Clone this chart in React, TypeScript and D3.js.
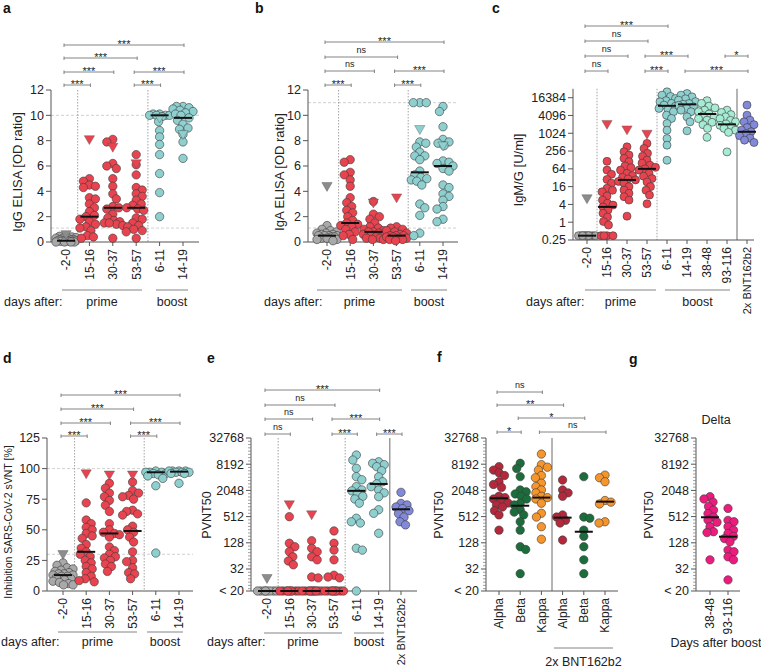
import React from "react";
import * as d3 from "d3";

const FONT = "'Liberation Sans', Arial, Helvetica, sans-serif";

const GRAY = "#a9a9a9";
const RED = "#e8434f";
const TEAL = "#8dd0cf";
const MINT = "#a6ebd4";
const BLUE = "#8289d9";
const ALPHA = "#b3283b";
const BETA = "#1c6d3c";
const KAPPA = "#f5952c";
const MAGENTA = "#ee1b7f";

// ---------- Panel a: IgG ELISA ----------
const aCats = ["-2-0", "15-16", "30-37", "53-57", "6-11", "14-19"];
const aColors = [GRAY, RED, RED, RED, TEAL, TEAL];
const aValues = [
  [0.5, 0.45, 0.4, 0.35, 0.3, 0.3, 0.25, 0.2, 0.2, 0.15, 0.15, 0.1, 0.1, 0.1, 0.1, 0.05, 0.05, 0.05, 0, 0, 0, 0],
  [5.0, 4.8, 4.5, 4.4, 4.3, 3.5, 3.4, 3.0, 2.7, 2.4, 2.1, 2.0, 1.8, 1.6, 1.4, 1.2, 1.1, 0.9, 0.5, 0.4, 0.3],
  [8.1, 7.9, 6.2, 6.0, 5.8, 5.0, 4.4, 3.8, 3.4, 2.8, 2.7, 2.6, 2.2, 1.9, 1.7, 1.6, 1.5, 1.4, 1.3, 1.5, 0.3],
  [6.9, 6.1, 5.3, 4.3, 4.1, 3.8, 3.6, 3.3, 3.0, 2.9, 2.7, 2.6, 2.5, 1.9, 1.8, 1.5, 1.3, 1.2, 1.0, 0.9, 0.8, 0.3],
  [10.1, 10.1, 10.0, 10.0, 10.0, 10.0, 9.9, 9.5, 8.8, 8.3, 7.7, 6.9, 5.4, 3.9, 2.0],
  [10.7, 10.7, 10.6, 10.5, 10.4, 10.3, 10.2, 10.1, 10.0, 9.8, 9.6, 9.3, 9.0, 8.9, 8.5, 7.9, 6.6],
];
const aTriangles = [[0.7], [8.2], [7.6], [6.3], [9.9], [8.6]];
const aMedians = [0.1, 2.0, 2.7, 2.7, 10.0, 9.8];
const aTicks = [0, 2, 4, 6, 8, 10, 12];
const aRefLines = [10, 1.1];
const aBrackets: [number, number, number, string][] = [
  [0, 1, 1, "***"], [3, 4, 1, "***"], [0, 2, 2, "***"], [3, 5, 2, "***"], [0, 3, 3, "***"], [0, 5, 4, "***"],
];

// ---------- Panel b: IgA ELISA ----------
const bCats = ["-2-0", "15-16", "30-37", "53-57", "6-11", "14-19"];
const bColors = [GRAY, RED, RED, RED, TEAL, TEAL];
const bValues = [
  [1.3, 1.0, 0.9, 0.8, 0.7, 0.7, 0.6, 0.6, 0.5, 0.5, 0.5, 0.5, 0.4, 0.4, 0.3, 0.3, 0.2, 0.2, 0.1],
  [6.5, 6.3, 5.5, 5.3, 4.9, 4.4, 3.5, 3.1, 2.8, 2.5, 2.3, 2.0, 1.7, 1.5, 1.4, 1.3, 1.2, 1.0, 0.8, 0.6, 0.5, 0.2],
  [3.2, 2.2, 2.0, 1.8, 1.5, 1.2, 1.1, 1.0, 0.9, 0.8, 0.8, 0.7, 0.6, 0.5, 0.5, 0.4, 0.3, 0.3, 0.2, 0.2],
  [1.2, 1.1, 1.0, 0.9, 0.8, 0.7, 0.6, 0.5, 0.5, 0.5, 0.4, 0.4, 0.3, 0.3, 0.2, 0.2, 0.1],
  [11, 11, 11, 7.9, 7.8, 7.5, 7.1, 6.8, 6.8, 6.5, 5.6, 5.3, 5.1, 5.0, 4.9, 4.8, 4.5, 3.0, 2.7, 2.1, 0.7, 0.5],
  [10.7, 10.3, 9.1, 8.1, 7.9, 7.8, 7.6, 6.4, 6.3, 6.2, 6.0, 5.8, 5.6, 4.5, 4.3, 3.8, 3.6, 3.3, 2.8, 2.6, 1.8, 1.6],
];
const bTriangles = [[4.5], [], [3.2], [3.6], [9.0], [7.7]];
const bMedians = [0.5, 1.5, 0.8, 0.5, 5.5, 6.0];
const bTicks = [0, 2, 4, 6, 8, 10, 12];
const bRefLines = [11, 1.1];
const bBrackets: [number, number, number, string][] = [
  [0, 1, 1, "***"], [3, 4, 1, "***"], [0, 2, 2, "ns"], [3, 5, 2, "***"], [0, 3, 3, "ns"], [0, 5, 4, "***"],
];

// ---------- Panel c: IgM/G ----------
const cCats = ["-2-0", "15-16", "30-37", "53-57", "6-11", "14-19", "38-48", "93-116", "2x BNT162b2"];
const cColors = [GRAY, RED, RED, RED, TEAL, TEAL, MINT, MINT, BLUE];
const cValues = [
  [0.35, 0.35, 0.35, 0.35, 0.35, 0.35, 0.35, 0.35, 0.35, 0.35],
  [115, 58, 42, 28, 21, 14, 12, 10.7, 7.7, 5.6, 4.4, 3.8, 3.3, 2.6, 2.0, 1.5, 1.05, 0.8, 0.35, 0.35, 0.35, 0.35],
  [357, 242, 187, 145, 112, 80, 70, 58, 45, 38, 33, 29, 27, 24, 21, 16, 12.3, 9.5, 7.3, 5.6, 1.6],
  [465, 315, 214, 170, 127, 100, 85, 72, 64, 58, 45, 36, 30, 23, 16, 12, 8.3, 4.2],
  [25900, 20000, 18000, 15400, 13000, 11900, 10500, 9200, 8500, 7100, 6500, 5500, 4200, 3250, 2200, 1300, 680, 405, 125],
  [22700, 20000, 17500, 15000, 13500, 12000, 10400, 9800, 9000, 8000, 7100, 6200, 5500, 3700, 2500, 1240],
  [13000, 10500, 8500, 7400, 6200, 5500, 4600, 4000, 3600, 3200, 2840, 2400, 2000, 1500, 745],
  [6200, 5200, 4400, 3700, 3200, 2800, 2500, 2100, 1900, 1700, 1500, 1300, 1100, 240],
  [9200, 4200, 2840, 2500, 2000, 1600, 1300, 1150, 1000, 850, 700, 600, 500],
];
const cTriangles = [[7], [2300], [1500], [1070], [], [], [], [], []];
const cMedians = [0.35, 3.3, 27, 64, 8700, 9750, 4600, 2050, 1150];
const cTicks = [0.25, 1, 4, 16, 64, 256, 1024, 4096, 16384];
const cBrackets: [number, number, number, string][] = [
  [0, 1, 1, "ns"], [3, 4, 1, "***"], [5, 8, 1, "***"], [0, 2, 2, "ns"], [3, 5, 2, "***"], [7, 8, 2, "*"],
  [0, 3, 3, "ns"], [0, 4, 4, "***"],
];

// ---------- Panel d: sVNT ----------
const dCats = ["-2-0", "15-16", "30-37", "53-57", "6-11", "14-19"];
const dColors = [GRAY, RED, RED, RED, TEAL, TEAL];
const dValues = [
  [23, 21, 19, 18, 17, 16, 15, 14, 14, 13, 13, 12, 12, 11, 10, 9, 8, 7, 6, 5, 5],
  [72, 58, 55, 52, 50, 47, 45, 43, 38, 35, 32, 30, 28, 25, 23, 20, 18, 15, 12, 10, 8.5, 7.5],
  [88, 84, 80, 77, 74, 70, 65, 55, 50, 48, 47, 46, 44, 36, 33, 30, 28, 27, 25, 22, 20, 16],
  [89, 82, 80, 78, 77, 75, 66, 65, 63, 62, 53, 50, 48, 44, 40, 32, 25, 24, 19, 15, 14, 10],
  [98, 97, 97, 97, 96, 96, 95, 94, 92, 86, 31],
  [98, 98, 98, 98, 97, 97, 97, 96, 96, 88],
];
const dTriangles = [[31], [97], [96], [96], [], []];
const dMedians = [13, 32, 47, 49, 97, 97.5];
const dTicks = [0, 25, 50, 75, 100, 125];
const dRefLines = [100, 30];
const dBrackets: [number, number, number, string][] = [
  [0, 1, 1, "***"], [3, 4, 1, "***"], [0, 2, 2, "***"], [3, 5, 2, "***"], [0, 3, 3, "***"], [0, 5, 4, "***"],
];

// ---------- Panel e: PVNT50 ----------
const eCats = ["-2-0", "15-16", "30-37", "53-57", "6-11", "14-19", "2x BNT162b2"];
const eColors = [GRAY, RED, RED, RED, TEAL, TEAL, BLUE];
const eValues = [
  [10, 10, 10, 10, 10, 10, 10, 10],
  [510, 125, 104, 80, 61, 49, 40, 10, 10, 10, 10, 10, 10, 10, 10, 10],
  [143, 96, 80, 61, 52, 21, 20, 10, 10, 10, 10, 10, 10, 10, 10, 10, 10],
  [240, 125, 87, 52, 23, 21, 20, 10, 10, 10, 10, 10, 10, 10, 10, 10],
  [13300, 10200, 6600, 4240, 3600, 2500, 2100, 2000, 1760, 1500, 1300, 1040, 470, 390, 365, 96, 87, 10],
  [9300, 8600, 8000, 7200, 5800, 4200, 3240, 2900, 2500, 2100, 1800, 1470, 735, 610, 212],
  [1850, 1030, 950, 850, 780, 700, 600, 500, 390, 330],
];
const eTriangles = [[21], [1040], [610], [], [], [], []];
const eMedians = [10, 10, 10, 10, 2000, 2880, 755];
const eBrackets: [number, number, number, string][] = [
  [0, 1, 1, "ns"], [3, 4, 1, "***"], [5, 6, 1, "***"], [0, 2, 2, "ns"], [3, 5, 2, "***"], [0, 3, 3, "ns"], [0, 5, 4, "***"],
];

// ---------- Panel f: variants ----------
const fCats = ["Alpha", "Beta", "Kappa", "Alpha", "Beta", "Kappa"];
const fColors = [ALPHA, BETA, KAPPA, ALPHA, BETA, KAPPA];
const fValues = [
  [7200, 6000, 5200, 4500, 3240, 2800, 2400, 1500, 1400, 1300, 1200, 1050, 950, 850, 700, 560, 250],
  [8600, 6500, 4240, 2100, 1900, 1700, 1500, 1300, 1040, 950, 735, 650, 560, 390, 250, 104, 90, 25],
  [14000, 8000, 7000, 6000, 4500, 4000, 3000, 2500, 2100, 1800, 1500, 1400, 1300, 1040, 610, 500, 300, 155],
  [3550, 2100, 1800, 1500, 560, 500, 420, 365, 148],
  [4240, 500, 470, 250, 180, 104, 52, 25],
  [4600, 4000, 3240, 1200, 1100, 1000, 390, 365],
];
const fTriangles = [[], [], [], [], [], []];
const fMedians = [1350, 910, 1400, 485, 230, 1130];
const fBrackets: [number, number, number, string][] = [
  [0, 1, 1, "*"], [2, 5, 1, "ns"], [1, 4, 2, "*"], [0, 3, 3, "**"], [0, 2, 4, "ns"],
];

// ---------- Panel g: Delta ----------
const gCats = ["38-48", "93-116"];
const gColors = [MAGENTA, MAGENTA];
const gValues = [
  [1470, 1300, 1100, 870, 720, 600, 500, 430, 380, 300, 230, 220, 52],
  [790, 420, 390, 300, 250, 210, 180, 160, 135, 87, 80, 61, 52, 18],
];
const gTriangles = [[], []];
const gMedians = [495, 177];

const pvTicks = [10, 32, 128, 512, 2048, 8192, 32768];

type Bracket = [number, number, number, string];

interface PanelSpec {
  cats: string[];
  colors: string[];
  values: number[][];
  triangles: number[][];
  medians: number[];
  y: any;
  ticks: number[];
  tickLabel: (v: number) => string;
  minor?: number[];
  xRange: [number, number];
  axisX: number;
  axisEnd: number;
  refLines?: number[];
  seps: { after: number; solid: boolean }[];
  brackets: Bracket[];
  levels: number[];
  yLabel: string;
  yLabelX: number;
  yLabelY: number;
  yLabelSize: number;
  r: number;
  maxW: number;
}

function swarmOffsets(ys: number[], r: number, maxW: number): number[] {
  const n = ys.length;
  const order = d3.range(n).sort((a, b) => ys[a] - ys[b] || a - b);
  const placed: [number, number][] = [];
  const out = new Array(n).fill(0);
  const minD = r * 1.45;
  const cands: number[] = [0];
  for (let k = 0.5; k <= maxW; k += 0.5) cands.push(k, -k);
  let flip = 1;
  for (const i of order) {
    const yy = ys[i];
    let chosen: number | null = null;
    let bestX = 0;
    let bestD = -1;
    for (const c0 of cands) {
      const c = c0 * flip;
      let md = Infinity;
      for (const [px, py] of placed) {
        const dd = Math.hypot(px - c, py - yy);
        if (dd < md) md = dd;
      }
      if (md >= minD) {
        chosen = c;
        break;
      }
      if (md > bestD + 0.01) {
        bestD = md;
        bestX = c;
      }
    }
    const xx = chosen === null ? bestX : chosen;
    out[i] = xx;
    placed.push([xx, yy]);
    flip = -flip;
  }
  return out;
}

const triPath = d3.symbol().type(d3.symbolTriangle).size(46)() as string;

function Panel({ p }: { p: PanelSpec }) {
  const n = p.cats.length;
  const x = d3.scalePoint<number>().domain(d3.range(n)).range(p.xRange);
  const y = p.y;
  const dom = y.domain();
  const yBottom = y(dom[0]);
  const yTop = y(dom[dom.length - 1]);
  const xc = (i: number) => x(i) as number;
  return (
    <g fontFamily={FONT}>
      {(p.refLines || []).map((v, i) => (
        <line key={"rl" + i} x1={p.axisX} x2={p.axisEnd} y1={y(v)} y2={y(v)} stroke="#c4c4c4" strokeWidth={0.8} strokeDasharray="3,2" />
      ))}
      {p.seps.map((s, i) => {
        const sx = (xc(s.after) + xc(s.after + 1)) / 2;
        return (
          <line key={"sp" + i} x1={sx} x2={sx} y1={yTop} y2={yBottom}
            stroke={s.solid ? "#6a6a6a" : "#8a8a8a"} strokeWidth={s.solid ? 1 : 0.8}
            strokeDasharray={s.solid ? undefined : "1.5,1.5"} />
        );
      })}
      <line x1={p.axisX} x2={p.axisX} y1={yTop} y2={yBottom} stroke="#555" strokeWidth={1} />
      {(p.minor || []).map((v, i) => (
        <line key={"mn" + i} x1={p.axisX - 3} x2={p.axisX} y1={y(v)} y2={y(v)} stroke="#777" strokeWidth={0.7} />
      ))}
      {p.ticks.map((v, i) => (
        <g key={"tk" + i}>
          <line x1={p.axisX - 5} x2={p.axisX} y1={y(v)} y2={y(v)} stroke="#555" strokeWidth={1} />
          <text x={p.axisX - 7} y={y(v)} dy="0.35em" textAnchor="end" fontSize={12.5} fill="#222">{p.tickLabel(v)}</text>
        </g>
      ))}
      <text transform={`translate(${p.yLabelX},${p.yLabelY}) rotate(-90)`} textAnchor="middle" dy="0.35em" fontSize={p.yLabelSize} fill="#222">{p.yLabel}</text>
      <line x1={p.axisX} x2={p.axisEnd} y1={yBottom} y2={yBottom} stroke="#555" strokeWidth={1} />
      {p.cats.map((c, i) => (
        <g key={"xc" + i}>
          <line x1={xc(i)} x2={xc(i)} y1={yBottom} y2={yBottom + 4} stroke="#555" strokeWidth={1} />
          <text transform={`translate(${xc(i) + 4.3},${yBottom + 7}) rotate(-90)`} textAnchor="end" fontSize={c.length > 8 ? 11 : 12} fill="#222">{c}</text>
        </g>
      ))}
      {p.values.map((vals, gi) => {
        const ys = vals.map((v) => y(v));
        const offs = swarmOffsets(ys, p.r, p.maxW);
        return (
          <g key={"pts" + gi}>
            {vals.map((v, j) => (
              <circle key={j} cx={xc(gi) + offs[j]} cy={ys[j]} r={p.r} fill={p.colors[gi]} stroke="#3a3a3a" strokeWidth={0.6} />
            ))}
            {p.triangles[gi].map((v, j) => (
              <path key={"t" + j} d={triPath} transform={`translate(${xc(gi)},${y(v) + 0.5}) rotate(180)`} fill={p.colors[gi] === GRAY ? "#8c8c8c" : p.colors[gi]} stroke="#555" strokeWidth={0.4} />
            ))}
          </g>
        );
      })}
      {p.medians.map((m, gi) => (
        <line key={"md" + gi} x1={xc(gi) - 9} x2={xc(gi) + 9} y1={y(m)} y2={y(m)} stroke="#111" strokeWidth={2} />
      ))}
      {p.brackets.map(([a, b, lv, lab], i) => {
        const by = p.levels[lv - 1];
        const x1 = xc(a) - 2;
        const x2 = xc(b) + 1;
        const star = lab !== "ns";
        return (
          <g key={"br" + i}>
            <line x1={x1} x2={x2} y1={by} y2={by} stroke="#777" strokeWidth={0.9} />
            <line x1={x1} x2={x1} y1={by - 1.5} y2={by + 2} stroke="#777" strokeWidth={0.9} />
            <line x1={x2} x2={x2} y1={by - 1.5} y2={by + 2} stroke="#777" strokeWidth={0.9} />
            <text x={(x1 + x2) / 2} y={star ? by + 3 : by - 4} textAnchor="middle" fontSize={star ? 11 : 9} fill="#222">{lab}</text>
          </g>
        );
      })}
    </g>
  );
}

function logMinor(lo: number, hi: number, step: number, majors: number[]): number[] {
  const out: number[] = [];
  const l0 = Math.log2(lo);
  const l1 = Math.log2(hi);
  for (let k = Math.ceil(l0 / step) * step; k <= l1 + 1e-9; k += step) {
    const v = Math.pow(2, k);
    if (!majors.some((m) => Math.abs(Math.log2(m) - k) < 1e-6)) out.push(v);
  }
  return out;
}

function GroupLabel({ x1, x2, lineY, textY, text }: { x1: number; x2: number; lineY: number; textY: number; text: string }) {
  return (
    <g fontFamily={FONT}>
      <line x1={x1} x2={x2} y1={lineY} y2={lineY} stroke="#777" strokeWidth={0.9} />
      <text x={(x1 + x2) / 2} y={textY} textAnchor="middle" fontSize={12.5} fill="#222">{text}</text>
    </g>
  );
}

const linLabel = (v: number) => String(v);
const pvLabel = (v: number) => (v === 10 ? "< 20" : String(v));

export default function App() {
  const yA = d3.scaleLinear().domain([0, 12]).range([242, 90]);
  const yD = d3.scaleLinear().domain([0, 125]).range([591, 438]);
  const yC = d3.scaleLog().base(2).domain([0.25, 32768]).range([240, 88.8]);
  const yP = d3.scaleLog().base(2).domain([10, 32768]).range([591, 438]);
  const pvMinor = logMinor(10, 32768, 0.25, [32, 128, 512, 2048, 8192, 32768]);

  const pa: PanelSpec = {
    cats: aCats, colors: aColors, values: aValues, triangles: aTriangles, medians: aMedians,
    y: yA, ticks: aTicks, tickLabel: linLabel, xRange: [66, 183], axisX: 51, axisEnd: 199,
    refLines: aRefLines, seps: [{ after: 0, solid: false }, { after: 3, solid: false }],
    brackets: aBrackets, levels: [85, 72, 58, 45],
    yLabel: "IgG ELISA [OD ratio]", yLabelX: 17, yLabelY: 172, yLabelSize: 13, r: 4.2, maxW: 10,
  };
  const pb: PanelSpec = {
    cats: bCats, colors: bColors, values: bValues, triangles: bTriangles, medians: bMedians,
    y: yA, ticks: bTicks, tickLabel: linLabel, xRange: [327, 443], axisX: 308, axisEnd: 458,
    refLines: bRefLines, seps: [{ after: 0, solid: false }, { after: 3, solid: false }],
    brackets: bBrackets, levels: [85, 71, 57, 42],
    yLabel: "IgA ELISA [OD ratio]", yLabelX: 279, yLabelY: 172, yLabelSize: 13, r: 4.2, maxW: 10,
  };
  const pc: PanelSpec = {
    cats: cCats, colors: cColors, values: cValues, triangles: cTriangles, medians: cMedians,
    y: yC, ticks: cTicks, tickLabel: linLabel, xRange: [587, 747], axisX: 573, axisEnd: 754,
    seps: [{ after: 0, solid: false }, { after: 3, solid: false }, { after: 7, solid: true }],
    brackets: cBrackets, levels: [71, 56, 41, 26],
    yLabel: "IgM/G [U/ml]", yLabelX: 518, yLabelY: 170, yLabelSize: 13, r: 4, maxW: 8.5,
  };
  const pd: PanelSpec = {
    cats: dCats, colors: dColors, values: dValues, triangles: dTriangles, medians: dMedians,
    y: yD, ticks: dTicks, tickLabel: linLabel, xRange: [63, 179], axisX: 47, axisEnd: 193,
    refLines: dRefLines, seps: [{ after: 0, solid: false }, { after: 3, solid: false }],
    brackets: dBrackets, levels: [436, 423, 409, 395],
    yLabel: "Inhibition SARS-CoV-2 sVNT [%]", yLabelX: 8, yLabelY: 522, yLabelSize: 10.5, r: 4.2, maxW: 10,
  };
  const pe: PanelSpec = {
    cats: eCats, colors: eColors, values: eValues, triangles: eTriangles, medians: eMedians,
    y: yP, ticks: pvTicks, tickLabel: pvLabel, minor: pvMinor, xRange: [267, 401], axisX: 251, axisEnd: 417,
    seps: [{ after: 0, solid: false }, { after: 3, solid: false }, { after: 5, solid: true }],
    brackets: eBrackets, levels: [434, 419, 405, 390],
    yLabel: "PVNT50", yLabelX: 207, yLabelY: 515, yLabelSize: 12.5, r: 4.2, maxW: 9.5,
  };
  const pf: PanelSpec = {
    cats: fCats, colors: fColors, values: fValues, triangles: fTriangles, medians: fMedians,
    y: yP, ticks: pvTicks, tickLabel: pvLabel, minor: pvMinor, xRange: [499, 605], axisX: 486, axisEnd: 618,
    seps: [{ after: 2, solid: true }],
    brackets: fBrackets, levels: [432, 418, 405, 392],
    yLabel: "PVNT50", yLabelX: 439, yLabelY: 515, yLabelSize: 12.5, r: 4.2, maxW: 9,
  };
  const pg: PanelSpec = {
    cats: gCats, colors: gColors, values: gValues, triangles: gTriangles, medians: gMedians,
    y: yP, ticks: pvTicks, tickLabel: pvLabel, minor: pvMinor, xRange: [710, 728], axisX: 696, axisEnd: 740,
    seps: [], brackets: [], levels: [],
    yLabel: "PVNT50", yLabelX: 649, yLabelY: 515, yLabelSize: 12.5, r: 4.2, maxW: 7,
  };

  const titles = [
    { t: "a", x: 3, y: 13 }, { t: "b", x: 255, y: 13 }, { t: "c", x: 492, y: 13 },
    { t: "d", x: 3, y: 363 }, { t: "e", x: 207, y: 363 }, { t: "f", x: 437, y: 362 }, { t: "g", x: 629, y: 364 },
  ];

  return (
    <svg width={761} height={669} style={{ position: "absolute", left: 0, top: 0, background: "#fff" }}>
      <rect width={761} height={669} fill="#fff" />
      {titles.map((t) => (
        <text key={t.t} x={t.x} y={t.y} fontFamily={FONT} fontWeight="bold" fontSize={14} fill="#111">{t.t}</text>
      ))}
      <Panel p={pa} />
      <Panel p={pb} />
      <Panel p={pc} />
      <Panel p={pd} />
      <Panel p={pe} />
      <Panel p={pf} />
      <Panel p={pg} />

      <text x={4} y={306} fontFamily={FONT} fontSize={12.5} fill="#222">days after:</text>
      <GroupLabel x1={62} x2={142} lineY={290} textY={306} text="prime" />
      <GroupLabel x1={156} x2={188} lineY={290} textY={306} text="boost" />

      <text x={264} y={306} fontFamily={FONT} fontSize={12.5} fill="#222">days after:</text>
      <GroupLabel x1={317} x2={402} lineY={290} textY={306} text="prime" />
      <GroupLabel x1={411} x2={447} lineY={290} textY={306} text="boost" />

      <text x={526} y={306} fontFamily={FONT} fontSize={12.5} fill="#222">days after:</text>
      <GroupLabel x1={585} x2={656} lineY={290} textY={306} text="prime" />
      <GroupLabel x1={665} x2={730} lineY={290} textY={306} text="boost" />

      <text x={1} y={646} fontFamily={FONT} fontSize={12.5} fill="#222">days after:</text>
      <GroupLabel x1={58} x2={137} lineY={632} textY={646} text="prime" />
      <GroupLabel x1={147} x2={183} lineY={632} textY={646} text="boost" />

      <text x={207} y={646} fontFamily={FONT} fontSize={12.5} fill="#222">days after:</text>
      <GroupLabel x1={264} x2={342} lineY={633} textY={646} text="prime" />
      <GroupLabel x1={354} x2={384} lineY={633} textY={646} text="boost" />

      <GroupLabel x1={554} x2={613} lineY={648} textY={666} text="2x BNT162b2" />

      <text x={716} y={424} textAnchor="middle" fontFamily={FONT} fontSize={12.5} fill="#222">Delta</text>
      <text x={716} y={647} textAnchor="middle" fontFamily={FONT} fontSize={12.5} fill="#222">Days after boost</text>
    </svg>
  );
}
